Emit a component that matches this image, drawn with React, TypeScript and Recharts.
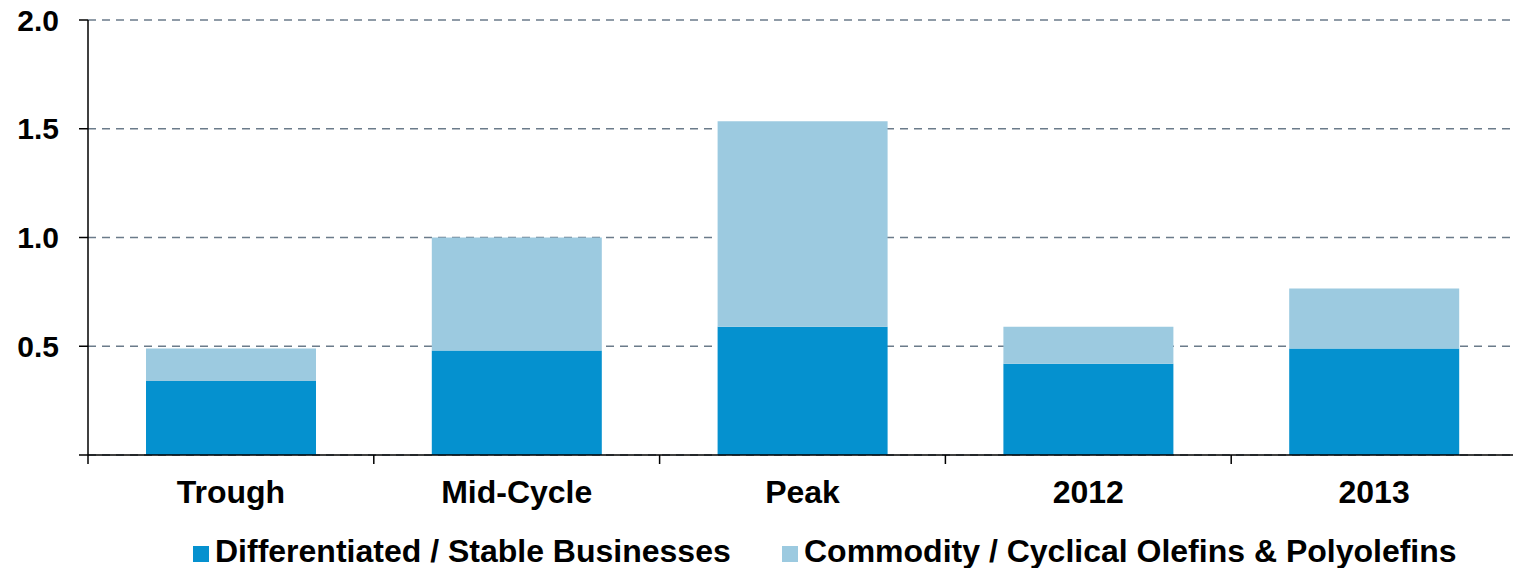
import { BarChart, Bar, XAxis, YAxis, CartesianGrid } from 'recharts'

const categories = ['Trough', 'Mid-Cycle', 'Peak', '2012', '2013']
const stable = [0.34, 0.48, 0.59, 0.42, 0.49]
const commodity = [0.15, 0.52, 0.945, 0.17, 0.275]
const yTicks = [0, 0.5, 1.0, 1.5, 2.0]

const seriesNames = ['Differentiated / Stable Businesses', 'Commodity / Cyclical Olefins & Polyolefins']
const colors = ['#0591cf', '#9ccae0']

const data = categories.map((c, i) => ({ name: c, stable: stable[i], commodity: commodity[i] }))

const W = 1513
const H = 568
const LEFT = 88
const RIGHT = -4
const HALF_BAND = (W - LEFT - RIGHT) / categories.length / 2
const FONT = '"Liberation Sans", Arial, sans-serif'

function XTick(props: any) {
  const { x, y, payload } = props
  return (
    <g>
      <line x1={x - HALF_BAND} x2={x - HALF_BAND} y1={y - 8} y2={y + 1} stroke="#000" strokeWidth={1.5} />
      <text x={x} y={y + 40} textAnchor="middle" fontSize={32} fontWeight="bold" fontFamily={FONT} fill="#000">
        {payload.value}
      </text>
    </g>
  )
}

const legendX = [193, 782]

export default function App() {
  return (
    <div style={{ position: 'absolute', left: 0, top: 0, width: W, height: H, background: '#fff', overflow: 'hidden' }}>
      <BarChart
        width={W}
        height={H}
        data={data}
        margin={{ top: 20, right: RIGHT, left: 0, bottom: 0 }}
        barCategoryGap={58}
      >
        <CartesianGrid vertical={false} stroke="#6b7b8a" strokeDasharray="8 6" strokeWidth={1.5} />
        <XAxis
          dataKey="name"
          height={113}
          tick={<XTick />}
          tickLine={false}
          axisLine={{ stroke: '#000', strokeWidth: 1.5 }}
          interval={0}
        />
        <YAxis
          width={LEFT}
          domain={[0, 2]}
          ticks={yTicks}
          tickFormatter={(v: number) => (v === 0 ? '' : v.toFixed(1))}
          tick={{ fontSize: 30, fontWeight: 'bold', fill: '#000', fontFamily: FONT }}
          tickSize={9}
          tickMargin={20}
          tickLine={{ stroke: '#000', strokeWidth: 1.5 }}
          axisLine={{ stroke: '#000', strokeWidth: 1.5 }}
        />
        <Bar dataKey="stable" name={seriesNames[0]} stackId="a" fill={colors[0]} isAnimationActive={false} />
        <Bar dataKey="commodity" name={seriesNames[1]} stackId="a" fill={colors[1]} isAnimationActive={false} />
      </BarChart>
      {seriesNames.map((n, i) => (
        <div
          key={n}
          style={{
            position: 'absolute', left: legendX[i], top: 533, display: 'flex', alignItems: 'flex-end',
            fontFamily: FONT, fontWeight: 'bold', fontSize: 32, lineHeight: '36px', color: '#000', whiteSpace: 'nowrap',
          }}
        >
          <span style={{ width: 16, height: 16, background: colors[i], display: 'inline-block', marginRight: 6, marginBottom: 7 }} />
          <span>{n}</span>
        </div>
      ))}
    </div>
  )
}
